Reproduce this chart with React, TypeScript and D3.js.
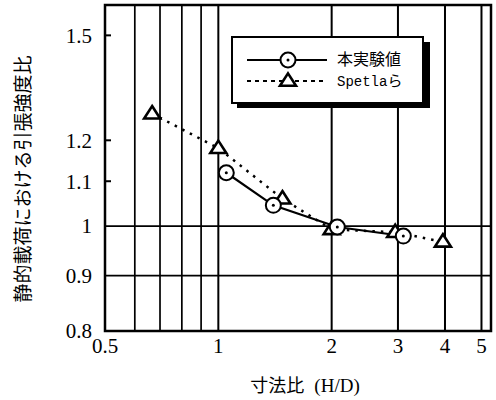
import React from "react";
import * as d3 from "d3";

const xTicks = [0.5, 1, 2, 3, 4, 5];
const xMinorGrid = [0.6, 0.7, 0.8, 0.9];
const xMajorGrid = [1, 2, 3, 4, 5];
const yTicks = [0.8, 0.9, 1, 1.1, 1.2, 1.5];
const yGrid = [0.9, 1];
const expX = [1.05, 1.4, 2.07, 3.1];
const expY = [1.12, 1.045, 0.998, 0.979];
const spX = [0.667, 1.0, 1.48, 2.0, 2.95, 3.95];
const spY = [1.27, 1.18, 1.06, 0.993, 0.987, 0.967];
const seriesNames = ["本実験値", "Spetlaら"];

const W = 496, H = 400;
const L = 105, R = 491, T = 5, B = 331;

export default function App() {
  const x = d3.scaleLog().domain([0.5, 5.3]).range([L, R]);
  const y = d3.scaleLog().domain([0.8, 1.6]).range([B, T]);
  const line = d3.line<[number, number]>().x(d => x(d[0])).y(d => y(d[1]));
  const expPts = expX.map((v, i) => [v, expY[i]] as [number, number]);
  const spPts = spX.map((v, i) => [v, spY[i]] as [number, number]);
  const tri = (cx: number, cy: number, s = 8) =>
    `M${cx},${cy - s * 0.95}L${cx + s},${cy + s * 0.6}L${cx - s},${cy + s * 0.6}Z`;
  const serif = "'Liberation Serif', 'DejaVu Serif', serif";
  const jp = "'Noto Sans CJK JP', sans-serif";
  return (
    <svg width={W} height={H} style={{ position: "absolute", left: 0, top: 0, background: "#fff" }}>
      <rect x={0} y={0} width={W} height={H} fill="#fff" />
      {xMinorGrid.map(v => (
        <line key={"m" + v} x1={x(v)} x2={x(v)} y1={T} y2={B} stroke="#000" strokeWidth={1.7} />
      ))}
      {xMajorGrid.map(v => (
        <line key={"M" + v} x1={x(v)} x2={x(v)} y1={T} y2={B} stroke="#000" strokeWidth={2} />
      ))}
      {yGrid.map(v => (
        <line key={"y" + v} x1={L} x2={R} y1={y(v)} y2={y(v)} stroke="#000" strokeWidth={1.7} />
      ))}
      {yTicks.filter(v => v > 1).map(v => (
        <line key={"t" + v} x1={L} x2={L + 6} y1={y(v)} y2={y(v)} stroke="#000" strokeWidth={2} />
      ))}
      <rect x={L} y={T} width={R - L} height={B - T} fill="none" stroke="#000" strokeWidth={2.5} />
      <path d={line(spPts) || ""} fill="none" stroke="#000" strokeWidth={2.5} strokeDasharray="2.5,6" />
      <path d={line(expPts) || ""} fill="none" stroke="#000" strokeWidth={2.2} />
      {spPts.map((p, i) => (
        <path key={"tr" + i} d={tri(x(p[0]), y(p[1]))} fill="#fff" stroke="#000" strokeWidth={2.6} />
      ))}
      {expPts.map((p, i) => (
        <g key={"c" + i}>
          <circle cx={x(p[0])} cy={y(p[1])} r={7.5} fill="#fff" stroke="#000" strokeWidth={2} />
          <circle cx={x(p[0])} cy={y(p[1])} r={1.5} fill="#000" />
        </g>
      ))}
      <rect x={237} y={42} width={193} height={66} fill="#000" />
      <rect x={232} y={37} width={191} height={66} fill="#fff" stroke="#000" strokeWidth={2} />
      <line x1={247} x2={327} y1={60} y2={60} stroke="#000" strokeWidth={2} />
      <circle cx={288} cy={60} r={7.5} fill="#fff" stroke="#000" strokeWidth={2} />
      <circle cx={288} cy={60} r={1.5} fill="#000" />
      <line x1={247} x2={327} y1={81} y2={81} stroke="#000" strokeWidth={2} strokeDasharray="4,4" />
      <path d={tri(288, 81)} fill="#fff" stroke="#000" strokeWidth={2.6} />
      <text x={337} y={65} fontFamily={jp} fontSize={16} fill="#000">{seriesNames[0]}</text>
      <text x={337} y={86} fontFamily="'Liberation Mono', monospace" fontSize={14} fill="#000">
        Spetla<tspan fontFamily={jp} fontSize={15}>ら</tspan>
      </text>
      {yTicks.map(v => (
        <text key={"yl" + v} x={92} y={y(v)} dy="0.35em" textAnchor="end" fontFamily={serif} fontSize={21} fill="#000">
          {String(v)}
        </text>
      ))}
      {xTicks.map(v => (
        <text key={"xl" + v} x={x(v)} y={353} textAnchor="middle" fontFamily={serif} fontSize={21} fill="#000">
          {String(v)}
        </text>
      ))}
      <text x={305} y={392} textAnchor="middle" fontFamily={jp} fontSize={18} fill="#000" xmlSpace="preserve">
        {"寸法比 "}<tspan fontFamily={serif} fontSize={19} dx={6}>(H/D)</tspan>
      </text>
      <text transform={`translate(30,179) rotate(-90)`} textAnchor="middle" fontFamily={jp} fontSize={19} fill="#000">
        静的載荷における引張強度比
      </text>
    </svg>
  );
}
